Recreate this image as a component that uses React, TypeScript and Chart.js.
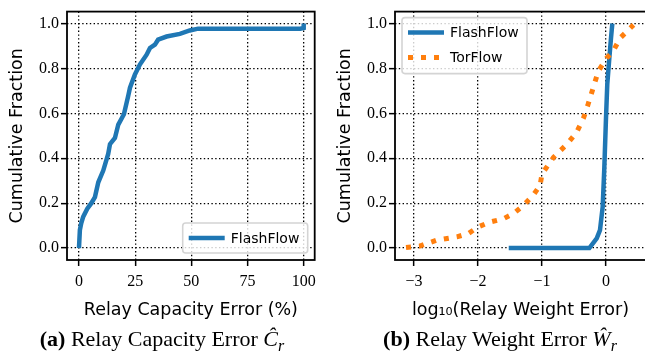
import React, { useEffect, useRef } from "react";
import { Chart, registerables } from "chart.js";

Chart.register(...registerables);

// ---- Data: (a) Relay Capacity Error CDF ----
const capErrX = [0, 0.4, 1.0, 1.9, 3.7, 5.5, 7.1, 8.6, 10.8, 13.0, 13.8, 16.0, 17.5, 20.0, 21.9, 22.7, 24.9, 27.1, 30.1, 31.6, 33.8, 35.2, 39.0, 44.9, 49.3, 53.0, 98.5, 100, 100];
const capErrY = [0, 0.08, 0.11, 0.14, 0.175, 0.2, 0.227, 0.293, 0.345, 0.419, 0.463, 0.49, 0.55, 0.596, 0.677, 0.714, 0.773, 0.817, 0.861, 0.891, 0.906, 0.928, 0.942, 0.954, 0.969, 0.977, 0.977, 0.98, 1.0];
const capTicks = [0, 25, 50, 75, 100];
const capTickLabels = ["0", "25", "50", "75", "100"];

// ---- Data: (b) Relay Weight Error CDF (log10) ----
const wFlashX = [-1.52, -0.26, -0.145, -0.094, -0.052, -0.026, 0.0, 0.02, 0.052, 0.078, 0.099];
const wFlashY = [0, 0, 0.043, 0.08, 0.183, 0.36, 0.58, 0.73, 0.846, 0.935, 1.0];
const wTorX = [-3.125, -2.91, -2.65, -2.33, -2.15, -2.0, -1.81, -1.6, -1.45, -1.29, -1.14, -1.03, -1.0, -0.82, -0.61, -0.46, -0.35, -0.28, -0.2, -0.12, 0.01, 0.11, 0.22, 0.43];
const wTorY = [0.003, 0.009, 0.035, 0.05, 0.065, 0.094, 0.116, 0.131, 0.153, 0.19, 0.235, 0.279, 0.33, 0.404, 0.463, 0.515, 0.58, 0.64, 0.714, 0.788, 0.846, 0.876, 0.935, 0.994];
const wTicks = [-3, -2, -1, 0];
const wTickLabels = ["\u22123", "\u22122", "\u22121", "0"];

const fracTicks = [0, 0.2, 0.4, 0.6, 0.8, 1.0];
const fracTickLabels = ["0.0", "0.2", "0.4", "0.6", "0.8", "1.0"];

const BLUE = "#1f77b4";
const ORANGE = "#ff7f0e";
const SANS = "'DejaVu Sans'";
const SERIF = "'Liberation Serif'";

const zip = (xs: number[], ys: number[]) => xs.map((x, i) => ({ x, y: ys[i] }));

const framePlugin = {
  id: "frame",
  afterDatasetsDraw(chart: any) {
    const { ctx, chartArea: a } = chart;
    ctx.save();
    ctx.strokeStyle = "#000";
    ctx.lineWidth = 1.8;
    ctx.setLineDash([]);
    ctx.strokeRect(a.left, a.top, a.right - a.left, a.bottom - a.top);
    ctx.restore();
  },
};

const boxLegend = {
  id: "boxLegend",
  afterDraw(chart: any, _args: any, opts: any) {
    const { ctx, chartArea: a } = chart;
    const ds = chart.data.datasets;
    const w = opts.w, h = opts.h;
    const x = opts.anchor === "br" ? a.right - opts.dx - w : a.left + opts.dx;
    const y = opts.anchor === "br" ? a.bottom - opts.dy - h : a.top + opts.dy;
    ctx.save();
    ctx.beginPath();
    const r = 3;
    ctx.moveTo(x + r, y);
    ctx.arcTo(x + w, y, x + w, y + h, r);
    ctx.arcTo(x + w, y + h, x, y + h, r);
    ctx.arcTo(x, y + h, x, y, r);
    ctx.arcTo(x, y, x + w, y, r);
    ctx.closePath();
    ctx.fillStyle = "rgba(255,255,255,0.8)";
    ctx.fill();
    ctx.strokeStyle = "#d4d4d4";
    ctx.lineWidth = 1.6;
    ctx.stroke();
    ds.forEach((d: any, i: number) => {
      const ry = y + 15 + i * 25;
      ctx.beginPath();
      ctx.setLineDash(d.borderDash || []);
      ctx.strokeStyle = d.borderColor;
      ctx.lineWidth = d.borderWidth;
      ctx.lineCap = "butt";
      ctx.moveTo(x + 6, ry);
      ctx.lineTo(x + 42, ry);
      ctx.stroke();
      ctx.setLineDash([]);
      ctx.fillStyle = "#000";
      ctx.font = `14px ${SANS}`;
      ctx.textBaseline = "middle";
      ctx.textAlign = "left";
      ctx.fillText(d.label, x + 48, ry + 1);
    });
    ctx.restore();
  },
};

function gridOpts() {
  return {
    color: "#000",
    lineWidth: 1.3,
    drawTicks: true,
    tickLength: 6,
    tickColor: "#000",
    tickWidth: 1.5,
    tickBorderDash: [],
  };
}

const borderOpts = { display: false, dash: [1.4, 2.4], dashOffset: 0 };

function xScale(min: number, max: number, ticks: number[], labels: string[], title: string) {
  return {
    type: "linear",
    min,
    max,
    afterBuildTicks: (s: any) => {
      s.ticks = ticks.map((v) => ({ value: v }));
    },
    afterFit: (s: any) => {
      s.height = 70;
    },
    border: borderOpts,
    grid: gridOpts(),
    ticks: {
      color: "#000",
      autoSkip: false,
      maxRotation: 0,
      padding: 6,
      font: { family: SERIF, size: 16 },
      callback: (_v: any, i: number) => labels[i],
    },
    title: {
      display: true,
      text: title,
      color: "#000",
      font: { family: SANS, size: 17.5 },
      padding: { top: 0, bottom: 9.5 },
    },
  };
}

function yScale(width: number, titlePad: number) {
  return {
    type: "linear",
    min: -0.053,
    max: 1.053,
    afterBuildTicks: (s: any) => {
      s.ticks = fracTicks.map((v) => ({ value: v }));
    },
    afterFit: (s: any) => {
      s.width = width;
    },
    border: borderOpts,
    grid: gridOpts(),
    ticks: {
      color: "#000",
      autoSkip: false,
      padding: 2,
      font: { family: SERIF, size: 16 },
      callback: (_v: any, i: number) => fracTickLabels[i],
    },
    title: {
      display: true,
      text: "Cumulative Fraction",
      color: "#000",
      font: { family: SANS, size: 17.5 },
      padding: { top: titlePad, bottom: 0 },
    },
  };
}

function useChart(ref: React.RefObject<HTMLCanvasElement | null>, make: () => any) {
  useEffect(() => {
    if (!ref.current) return;
    const chart = new Chart(ref.current, make());
    return () => chart.destroy();
  }, []);
}

export default function App() {
  const c1 = useRef<HTMLCanvasElement>(null);
  const c2 = useRef<HTMLCanvasElement>(null);

  useChart(c1, () => ({
    type: "scatter",
    data: {
      datasets: [
        {
          label: "FlashFlow",
          data: zip(capErrX, capErrY),
          showLine: true,
          borderColor: BLUE,
          backgroundColor: BLUE,
          borderWidth: 4.5,
          pointRadius: 0,
          tension: 0,
        },
      ],
    },
    options: {
      animation: false,
      responsive: false,
      layout: { padding: { top: 10, right: 7, left: 0, bottom: 0 } },
      scales: {
        x: xScale(-5.33, 104.9, capTicks, capTickLabels, "Relay Capacity Error (%)"),
        y: yScale(67, 6.5),
      },
      plugins: {
        legend: { display: false },
        tooltip: { enabled: false },
        boxLegend: { anchor: "br", dx: 7, dy: 7, w: 125, h: 30 },
      },
    },
    plugins: [framePlugin, boxLegend],
  }));

  useChart(c2, () => ({
    type: "scatter",
    data: {
      datasets: [
        {
          label: "FlashFlow",
          data: zip(wFlashX, wFlashY),
          showLine: true,
          borderColor: BLUE,
          backgroundColor: BLUE,
          borderWidth: 4.5,
          pointRadius: 0,
          order: 1,
        },
        {
          label: "TorFlow",
          data: zip(wTorX, wTorY),
          showLine: true,
          borderColor: ORANGE,
          backgroundColor: ORANGE,
          borderWidth: 5,
          borderDash: [5, 8],
          pointRadius: 0,
          order: 0,
        },
      ],
    },
    options: {
      animation: false,
      responsive: false,
      layout: { padding: { top: 10, right: 1, left: 0, bottom: 0 } },
      scales: {
        x: xScale(-3.297, 0.625, wTicks, wTickLabels, "log\u2081\u2080(Relay Weight Error)"),
        y: yScale(70, 9.5),
      },
      plugins: {
        legend: { display: false },
        tooltip: { enabled: false },
        boxLegend: { anchor: "tl", dx: 7, dy: 6, w: 125, h: 56 },
      },
    },
    plugins: [framePlugin, boxLegend],
  }));

  const cap: React.CSSProperties = {
    position: "absolute",
    top: 326,
    textAlign: "center",
    fontFamily: SERIF,
    fontSize: 22,
    lineHeight: "26px",
    color: "#000",
    whiteSpace: "nowrap",
  };

  return (
    <div
      style={{
        position: "absolute",
        left: 0,
        top: 0,
        width: 645,
        height: 354,
        overflow: "hidden",
        background: "#fff",
      }}
    >
      <canvas ref={c1} width={322} height={330} style={{ position: "absolute", left: 0, top: 0 }} />
      <canvas ref={c2} width={322} height={330} style={{ position: "absolute", left: 325, top: 0 }} />
      <div style={{ ...cap, left: 0, width: 324 }}>
        <b>(a)</b> Relay Capacity Error <i>Ĉ</i>
        <sub style={{ fontSize: 16, lineHeight: 0 }}>
          <i>r</i>
        </sub>
      </div>
      <div style={{ ...cap, left: 340, width: 320 }}>
        <b>(b)</b> Relay Weight Error <i>Ŵ</i>
        <sub style={{ fontSize: 16, lineHeight: 0 }}>
          <i>r</i>
        </sub>
      </div>
    </div>
  );
}
